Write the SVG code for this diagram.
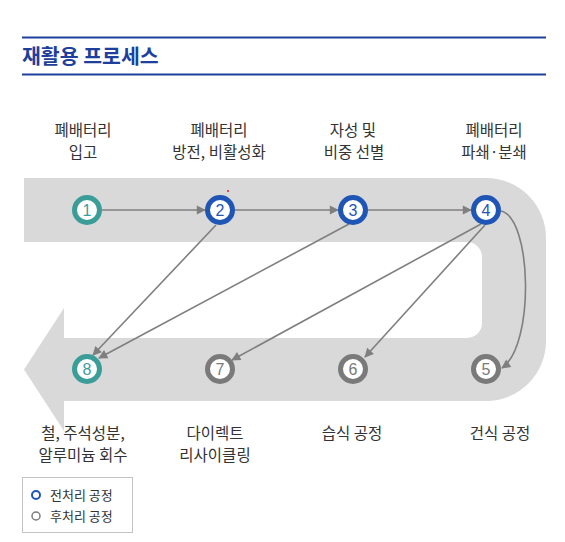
<svg xmlns="http://www.w3.org/2000/svg" width="565" height="542" viewBox="0 0 565 542">
<style>
text{font-family:"Noto Sans CJK KR","Noto Sans",sans-serif;}
.lbl{font-size:15.5px;fill:#333;text-anchor:middle;}
.num{font-family:"Liberation Sans","Noto Sans",sans-serif;font-size:16px;text-anchor:middle;}
.ring{fill:#fff;stroke-width:5;}
.teal .ring{stroke:#3b9d98;} .teal text{fill:#3b9d98;}
.blue .ring{stroke:#1f56b5;} .blue text{fill:#1f56b5;}
.grey .ring{stroke:#7a7a7a;} .grey text{fill:#7a7a7a;}
.conn path{fill:none;stroke:#7f7f7f;stroke-width:1.6;marker-end:url(#ah);}
.leg{font-size:13px;fill:#333;}
</style>
<defs>
<marker id="ah" viewBox="0 0 10 10" refX="9" refY="5" markerWidth="7" markerHeight="7" markerUnits="userSpaceOnUse" orient="auto" style="overflow:visible">
<path d="M0,0 L10,5 L0,10 Z" fill="#7f7f7f" transform="scale(1.3) translate(-2.1,-1.15)"/>
</marker>
</defs>
<rect width="565" height="542" fill="#fff"/>
<g id="title">
<line x1="22" y1="37.5" x2="546" y2="37.5" stroke="#1e3f9c" stroke-width="2"/>
<line x1="22" y1="74.5" x2="546" y2="74.5" stroke="#1e3f9c" stroke-width="2"/>
<text x="22" y="64" style="font-size:20.5px;font-weight:bold;fill:#1e3f9c">재활용 프로세스</text>
</g>
<path id="band" d="M24,178 H486 A60,60 0 0 1 546,238 V341 A60,60 0 0 1 486,401 H64 V431 L24,369.5 L64,308 V338 H467 A15,15 0 0 0 482,323 V257 A15,15 0 0 0 467,242 H24 Z" fill="#d9d9d9"/>
<circle cx="228" cy="191" r="1" fill="#e02020"/>
<g id="labels">
<text class="lbl" x="83" y="136">폐배터리</text><text class="lbl" x="83" y="158">입고</text>
<text class="lbl" x="219" y="136">폐배터리</text><text class="lbl" x="219" y="158">방전, 비활성화</text>
<text class="lbl" x="353" y="136">자성 및</text><text class="lbl" x="354" y="158">비중 선별</text>
<text class="lbl" x="494" y="136">폐배터리</text><text class="lbl" x="494" y="158">파쇄·분쇄</text>
<text class="lbl" x="83" y="439">철, 주석성분,</text><text class="lbl" x="83" y="461">알루미늄 회수</text>
<text class="lbl" x="215" y="439">다이렉트</text><text class="lbl" x="215" y="461">리사이클링</text>
<text class="lbl" x="352" y="439">습식 공정</text>
<text class="lbl" x="500" y="439">건식 공정</text>
</g>
<g id="connectors" class="conn">
<path d="M102,210 H205"/>
<path d="M235,210 H338"/>
<path d="M368,210 H471"/>
<path d="M216,225 L93,355"/>
<path d="M349,224 L99,358"/>
<path d="M481,224 L232,360"/>
<path d="M485,225 L365,357"/>
<path d="M501,211 C532,218 535,345 502,368"/>
</g>
<g id="n1" class="teal"><circle class="ring" cx="87" cy="210" r="12.5"/><text class="num" x="87" y="216">1</text></g>
<g id="n2" class="blue"><circle class="ring" cx="220" cy="210" r="12.5"/><text class="num" x="220" y="216">2</text></g>
<g id="n3" class="blue"><circle class="ring" cx="353" cy="210" r="12.5"/><text class="num" x="353" y="216">3</text></g>
<g id="n4" class="blue"><circle class="ring" cx="486" cy="210" r="12.5"/><text class="num" x="486" y="216">4</text></g>
<g id="n5" class="grey"><circle class="ring" cx="486" cy="369" r="12.5"/><text class="num" x="486" y="375">5</text></g>
<g id="n6" class="grey"><circle class="ring" cx="353" cy="369" r="12.5"/><text class="num" x="353" y="375">6</text></g>
<g id="n7" class="grey"><circle class="ring" cx="220" cy="369" r="12.5"/><text class="num" x="220" y="375">7</text></g>
<g id="n8" class="teal"><circle class="ring" cx="87" cy="369" r="12.5"/><text class="num" x="87" y="375">8</text></g>
<g id="legend">
<rect x="22.5" y="477.5" width="110" height="55" fill="#fff" stroke="#c4c4c4" stroke-width="1"/>
<circle cx="36" cy="495" r="4" fill="none" stroke="#1f56b5" stroke-width="2"/>
<circle cx="36" cy="516" r="4" fill="none" stroke="#7a7a7a" stroke-width="1.5"/>
<text class="leg" x="50" y="500">전처리 공정</text>
<text class="leg" x="50" y="521">후처리 공정</text>
</g>
</svg>
